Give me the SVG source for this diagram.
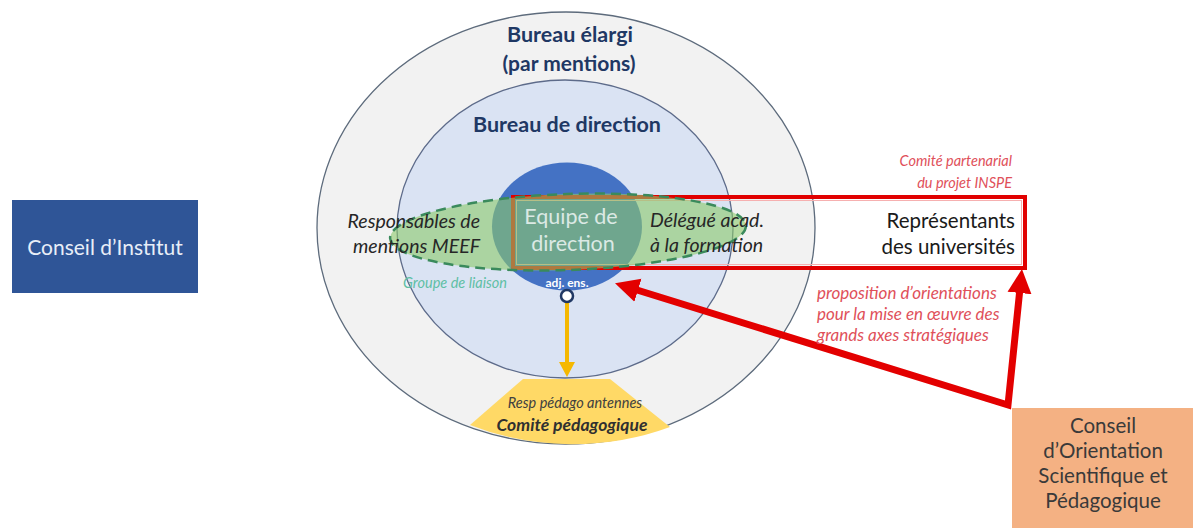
<svg xmlns="http://www.w3.org/2000/svg" width="1193" height="528" viewBox="0 0 1193 528">
<style>
text{font-family:Lato,"Liberation Sans",sans-serif}
.bur{font-weight:bold;font-size:21.5px;fill:#1f3864;text-anchor:middle}
.it{font-style:italic;font-size:19.5px;fill:#262626}
.red{font-style:italic;font-size:14.5px;fill:#e0505a}
.prop{font-style:italic;font-size:17px;fill:#e0505a}
.box{font-size:20.5px}
</style>
<defs>
<marker id="rh" markerUnits="userSpaceOnUse" markerWidth="26" markerHeight="26" viewBox="0 -13 26 26" refX="1" refY="0" orient="auto-start-reverse">
<path d="M0,-12 L24,0 L0,12 Z" fill="#e30000"/>
</marker>
<marker id="yh" markerUnits="userSpaceOnUse" markerWidth="18" markerHeight="16" viewBox="0 -8 16 16" refX="1" refY="0" orient="auto">
<path d="M0,-8 L15,0 L0,8 Z" fill="#f5b800"/>
</marker>
</defs>
<rect width="1193" height="528" fill="#ffffff"/>

<g id="bureau-elargi">
<ellipse cx="566" cy="228" rx="249" ry="216" fill="#f2f2f2" stroke="#5d6b7c" stroke-width="1.3"/>
<text class="bur" x="570" y="42">Bureau élargi</text>
<text class="bur" x="569" y="71" style="font-size:21px">(par mentions)</text>
</g>

<g id="bureau-direction">
<ellipse cx="565" cy="229" rx="168" ry="149" fill="#dae3f3" stroke="#5d6b8a" stroke-width="1.3"/>
<text class="bur" x="567" y="132">Bureau de direction</text>
</g>

<g id="comite-pedagogique">
<path d="M523,379 L470,425 A249,216 0 0 0 670,427 L610,379 Z" fill="#ffd966"/>
<text x="575" y="408" text-anchor="middle" font-style="italic" font-size="14.5" fill="#404040">Resp  pédago antennes</text>
<text x="572" y="431" text-anchor="middle" font-style="italic" font-weight="bold" font-size="17.5" fill="#303030">Comité pédagogique</text>
</g>

<g id="equipe-direction">
<ellipse cx="567" cy="226.5" rx="75" ry="64" fill="#4472c4"/>
</g>

<g id="comite-partenarial">
<rect x="513" y="197" width="512" height="71" fill="none" stroke="#e10000" stroke-width="4"/>
<rect x="516.5" y="200.5" width="505" height="64" fill="none" stroke="#f6b0b0" stroke-width="1"/>
<text class="red" x="1012" y="166" text-anchor="end">Comité partenarial</text>
<text class="red" x="1012" y="188" text-anchor="end">du projet INSPE</text>
<text class="box" x="1015" y="228" text-anchor="end" fill="#1a1a1a">Représentants</text>
<text class="box" x="1015" y="254" text-anchor="end" fill="#1a1a1a">des universités</text>
</g>

<g id="groupe-liaison">
<ellipse cx="568" cy="232" rx="178" ry="38" transform="rotate(-2 568 232)" fill="#8cc96a" fill-opacity="0.6" stroke="#3a8a5c" stroke-width="2.5" stroke-dasharray="10 6"/>
<text x="455" y="288" text-anchor="middle" font-style="italic" font-size="14.5" fill="#5fbfa5">Groupe de liaison</text>
<text class="it" x="480" y="228" text-anchor="end">Responsables de</text>
<text class="it" x="480" y="253" text-anchor="end">mentions MEEF</text>
<text class="it" x="650" y="227">Délégué acad.</text>
<text class="it" x="650" y="252">à la formation</text>
<text x="571" y="224" text-anchor="middle" font-size="21.5" fill="#dbe9e4">Equipe de</text>
<text x="573" y="251" text-anchor="middle" font-size="21.5" fill="#dbe9e4">direction</text>
<text x="567" y="287" text-anchor="middle" font-size="12" font-weight="bold" fill="#ffffff">adj. ens.</text>
</g>

<g id="conseil-institut">
<rect x="12" y="200" width="186" height="93" fill="#2f5597"/>
<text class="box" x="105" y="255" text-anchor="middle" fill="#e8eef8" style="font-size:21px">Conseil d’Institut</text>
</g>

<g id="cosp">
<rect x="1012" y="408" width="181" height="120" fill="#f4b183"/>
<text class="box" x="1103" y="433" text-anchor="middle" fill="#3a3a3a">Conseil</text>
<text class="box" x="1103" y="458" text-anchor="middle" fill="#3a3a3a">d’Orientation</text>
<text class="box" x="1103" y="483" text-anchor="middle" fill="#3a3a3a">Scientifique et</text>
<text class="box" x="1103" y="508" text-anchor="middle" fill="#3a3a3a">Pédagogique</text>
</g>

<g id="connectors">
<line x1="567" y1="302" x2="567" y2="363" stroke="#f5b800" stroke-width="4" marker-end="url(#yh)"/>
<circle cx="567" cy="296" r="6" fill="#ffffff" stroke="#203864" stroke-width="2.5"/>
<polyline points="637,290 1008,405 1019.6,292" fill="none" stroke="#e30000" stroke-width="7" stroke-linejoin="miter" marker-start="url(#rh)" marker-end="url(#rh)"/>
<text class="prop" x="817" y="299">proposition d’orientations</text>
<text class="prop" x="817" y="320">pour la mise en œuvre des</text>
<text class="prop" x="817" y="341">grands axes stratégiques</text>
</g>
</svg>
